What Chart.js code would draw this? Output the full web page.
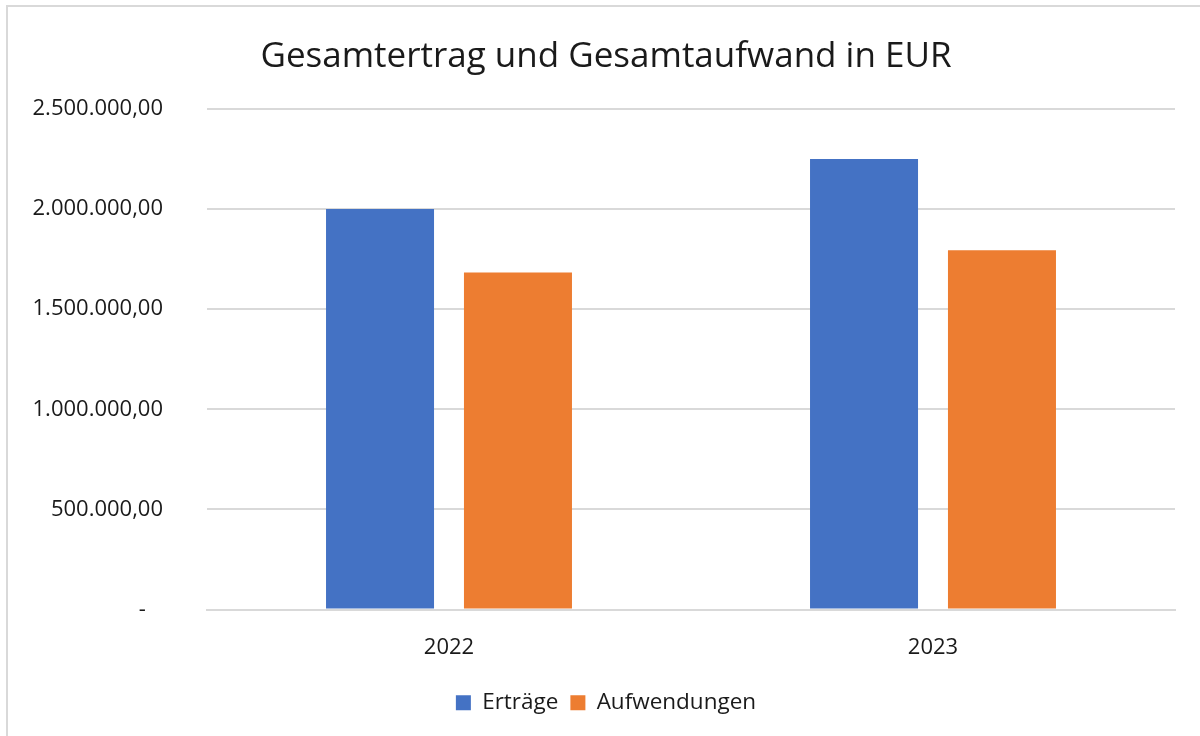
<!DOCTYPE html>
<html>
<head>
<meta charset="utf-8">
<script src="https://cdn.jsdelivr.net/npm/chart.js@4"></script>
<style>
    html, body { margin: 0; padding: 0; background: #fff; }
    #wrap { position: relative; width: 1200px; height: 736px; overflow: hidden; }
    #frame {
        position: absolute; left: 6px; top: 5px; width: 1220px; height: 760px;
        border: 2px solid #d9d9d9;
    }
    #myChart { position: absolute; left: 0; top: 0; }
</style>
</head>
<body>
<div id="wrap">
    <div id="frame"></div>
    <!-- canvas is a bit wider than the view so title/legend center like the original -->
    <canvas id="myChart" width="1230" height="736"></canvas>
</div>
<script>
// chart data
const years = ['2022', '2023'];
const ertraege = [2000000, 2250000];
const aufwendungen = [1683000, 1795000];
const yTicks = [0, 500000, 1000000, 1500000, 2000000, 2500000];

// german number format, 2 decimals; zero shown as dash (accounting style)
function formatEur(value) {
    if (value === 0) return '-   ';
    let parts = value.toFixed(2).split('.');
    let intPart = parts[0].replace(/\B(?=(\d{3})+(?!\d))/g, '.');
    return intPart + ',' + parts[1];
}

function drawChart() {
    let ctx = document.getElementById('myChart').getContext('2d');
    let font = "'Open Sans', 'Noto Sans', sans-serif";
    let textColor = '#1a1a1a';

    new Chart(ctx, {
        type: 'bar',
        data: {
            labels: years,
            datasets: [{
                label: 'Erträge',
                data: ertraege,
                backgroundColor: '#4472c4'
            }, {
                label: 'Aufwendungen',
                data: aufwendungen,
                backgroundColor: '#ed7d31'
            }]
        },
        options: {
            responsive: false,
            animation: false,
            datasets: {
                bar: {
                    categoryPercentage: 0.57,
                    barPercentage: 0.783
                }
            },
            layout: {
                padding: { left: 7, right: 25, top: 14, bottom: 12 }
            },
            plugins: {
                title: {
                    display: true,
                    text: 'Gesamtertrag und Gesamtaufwand in EUR',
                    color: textColor,
                    font: { family: font, size: 35, weight: 'normal' },
                    padding: { top: 22, bottom: 31 }
                },
                legend: {
                    position: 'bottom',
                    labels: {
                        color: textColor,
                        font: { family: font, size: 22.5 },
                        boxWidth: 15,
                        boxHeight: 15,
                        padding: 12
                    }
                },
                tooltip: { enabled: false }
            },
            scales: {
                x: {
                    grid: { display: false, drawTicks: false },
                    border: { display: true, color: '#d9d9d9', width: 2 },
                    ticks: {
                        color: textColor,
                        font: { family: font, size: 22 },
                        padding: 25
                    },
                    afterFit: function(scale) { scale.height = 70; }
                },
                y: {
                    min: 0,
                    max: 2500000,
                    afterBuildTicks: function(scale) {
                        scale.ticks = yTicks.map(v => ({ value: v }));
                    },
                    grid: { color: '#d9d9d9', lineWidth: 2, drawTicks: false },
                    border: { display: false },
                    ticks: {
                        color: textColor,
                        font: { family: font, size: 22 },
                        padding: 44,
                        callback: function(value) { return formatEur(value); }
                    },
                    afterFit: function(scale) { scale.width = 200; }
                },
                // empty spacer on the right, keeps the plot ending at the same place
                spacer: {
                    type: 'linear',
                    position: 'right',
                    grid: { display: false, drawTicks: false },
                    border: { display: false },
                    ticks: { display: false },
                    afterFit: function(scale) { scale.width = 30; }
                }
            }
        }
    });
}

drawChart();
</script>
</body>
</html>
